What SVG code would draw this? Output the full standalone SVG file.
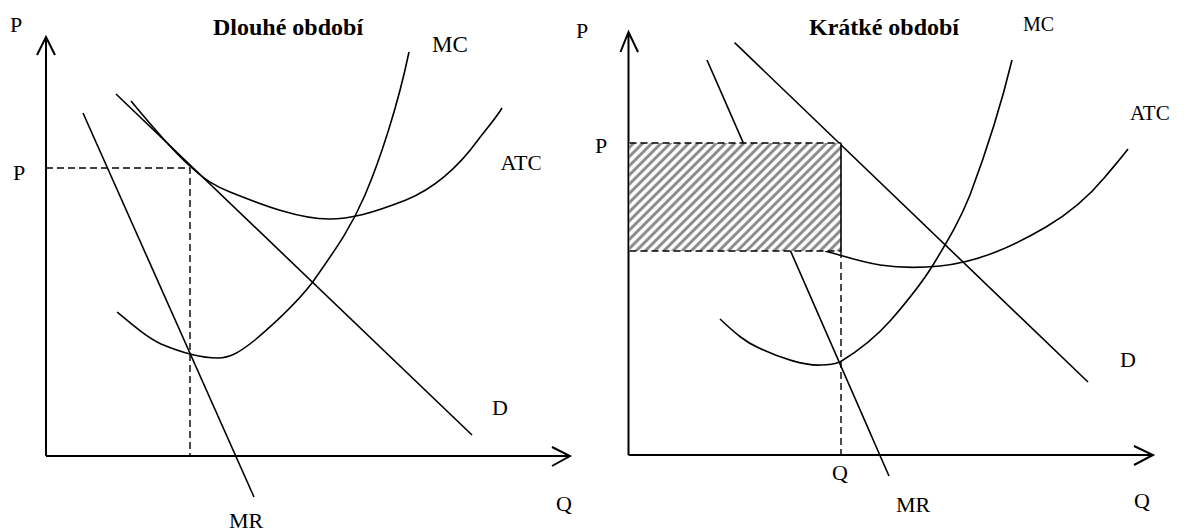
<svg xmlns="http://www.w3.org/2000/svg" width="1189" height="531" viewBox="0 0 1189 531">
<style>
  .bg{fill:#ffffff}
  .axis{fill:none;stroke:#000;stroke-width:2}
  .curve{fill:none;stroke:#000;stroke-width:1.6;stroke-linecap:butt}
  .dash{fill:none;stroke:#000;stroke-width:1.4;stroke-dasharray:7 4}
  .lbl{font-family:"Liberation Serif","Times New Roman",serif;font-size:22px;fill:#000}
  .ttl{font-family:"Liberation Serif","Times New Roman",serif;font-size:24px;font-weight:bold;fill:#000}
</style>
<defs>
  <pattern id="hatch" patternUnits="userSpaceOnUse" width="6.5" height="6.5" patternTransform="rotate(45)">
    <rect width="6.5" height="6.5" fill="#ffffff"/>
    <line x1="3.25" y1="-1" x2="3.25" y2="7.5" stroke="#8c8c8c" stroke-width="3"/>
  </pattern>
  <clipPath id="atcClip"><rect x="490" y="140" width="50.5" height="40"/></clipPath>
</defs>
<rect class="bg" x="0" y="0" width="1189" height="531"/>

<g id="left-chart">
  <g id="left-axes">
    <path class="axis" d="M46,456 L46,37 M37,55 L46,37 L55,55"/>
    <path class="axis" d="M46,456 L570,456 M552,447 L570,456 L552,466"/>
  </g>
  <g id="left-connectors">
    <path id="left-D" class="curve" d="M116,94 L472,435"/>
    <path id="left-MR" class="curve" d="M83,113 L254,497"/>
    <path id="left-ATC" class="curve" d="M131,101 C155,130 175,153 191,167 C205,180 215,186 230,192 C265,206 300,219 329,219 C350,219 370,214 406,200 C440,186 462,162 478,140 C488,127 496,118 502,108"/>
    <path id="left-MC" class="curve" d="M117,312 C135,327 148,338 161,344 C180,352 200,358 218,358 C230,358 240,352 255,340 C275,323 295,305 312,283 C335,250 350,230 365,195 C380,160 398,105 409,52"/>
    <path id="left-guides" class="dash" d="M46,168 L190,168 L190,456"/>
  </g>
  <g id="left-labels">
    <text class="lbl" x="10" y="32">P</text>
    <text class="ttl" x="213" y="35">Dlouhé období</text>
    <text class="lbl" x="432" y="52" style="font-size:23px">MC</text>
    <text class="lbl" x="13" y="180">P</text>
    <text class="lbl" x="500.5" y="170" clip-path="url(#atcClip)">ATC</text>
    <text class="lbl" x="492" y="415">D</text>
    <text class="lbl" x="556" y="511">Q</text>
    <text class="lbl" x="229" y="528">MR</text>
  </g>
</g>

<g id="right-chart">
  <g id="right-axes">
    <path class="axis" d="M628.5,455 L628.5,32 M620.5,52 L628.5,32 L638,52"/>
    <path class="axis" d="M628.5,455 L1153,455 M1134,446 L1153,455 L1134,465"/>
  </g>
  <g id="right-connectors">
    <path id="right-D" class="curve" d="M734.6,42.7 L1088,382"/>
    <path id="right-MR" class="curve" d="M707,60 L889,476"/>
    <path id="right-ATC" class="curve" d="M825,251 C840,255 860,262 880,265 C900,268 920,268 940,266 C980,262 1015,245 1046,227 C1070,213 1090,195 1105,177 C1115,165 1122,157 1128,149"/>
    <path id="right-MC" class="curve" d="M720,319 C735,333 745,342 759,348 C780,358 805,366 821,365 C830,365 835,364 840,362 C860,350 875,338 891,320 C910,298 922,283 933,265 C950,237 960,220 970,195 C985,155 1000,110 1012,60"/>
    <path id="right-guide" class="dash" d="M841,251 L841,455"/>
  </g>
  <g id="profit-area">
    <rect x="629.5" y="143" width="211.5" height="108" fill="url(#hatch)"/>
    <path class="dash" d="M629.5,143 L841,143 M629.5,251 L841,251"/>
    <path class="curve" d="M841,143 L841,251"/>
  </g>
  <g id="right-labels">
    <text class="lbl" x="576" y="38">P</text>
    <text class="ttl" x="809" y="35">Krátké období</text>
    <text class="lbl" x="1023" y="31" style="font-size:20px">MC</text>
    <text class="lbl" x="1130" y="120" style="font-size:21px">ATC</text>
    <text class="lbl" x="595" y="153">P</text>
    <text class="lbl" x="1120" y="367">D</text>
    <text class="lbl" x="832" y="480">Q</text>
    <text class="lbl" x="896" y="512">MR</text>
    <text class="lbl" x="1134" y="508">Q</text>
  </g>
</g>
</svg>
